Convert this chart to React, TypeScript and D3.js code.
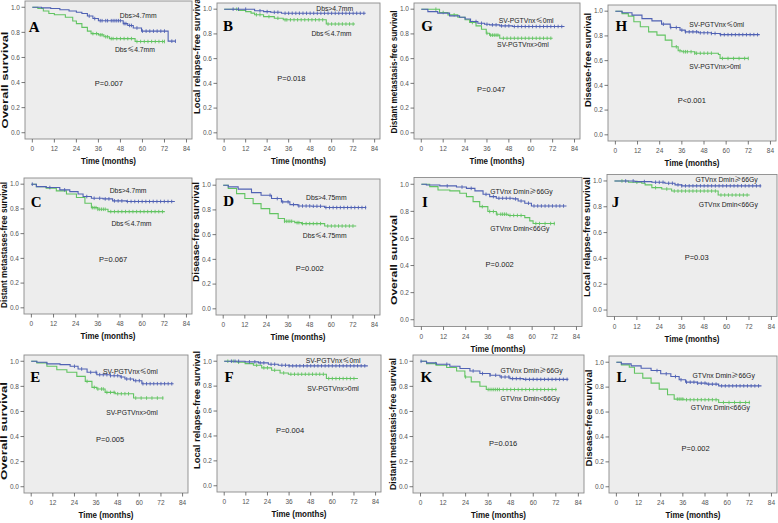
import React from "react";
import * as d3 from "d3";

type Pt = [number, number];

// ---------- DATA ----------
const panelLetters = ["A", "B", "G", "H", "C", "D", "I", "J", "E", "F", "K", "L"];
const yTitles = [
  "Overall survival",
  "Local relapse-free survival",
  "Distant metastasis-free survival",
  "Disease-free survival",
  "Distant metastases-free survival",
  "Disease-free survival",
  "Overall survival",
  "Local relapse-free survival",
  "Overall survival",
  "Local relapse-free survival",
  "Distant metastasis-free survival",
  "Disease-free survival",
];
const pTexts = ["P=0.007", "P=0.018", "P=0.047", "P<0.001", "P=0.067", "P=0.002", "P=0.002", "P=0.03", "P=0.005", "P=0.004", "P=0.016", "P=0.002"];
const upperLabels = ["Dbs>4.7mm", "Dbs>4.7mm", "SV-PGTVnx≤0ml", "SV-PGTVnx≤0ml", "Dbs>4.7mm", "Dbs>4.75mm", "GTVnx Dmin≥66Gy", "GTVnx Dmin≥66Gy", "SV-PGTVnx≤0ml", "SV-PGTVnx≤0ml", "GTVnx Dmin≥66Gy", "GTVnx Dmin≥66Gy"];
const lowerLabels = ["Dbs≤4.7mm", "Dbs≤4.7mm", "SV-PGTVnx>0ml", "SV-PGTVnx>0ml", "Dbs≤4.7mm", "Dbs≤4.75mm", "GTVnx Dmin<66Gy", "GTVnx Dmin<66Gy", "SV-PGTVnx>0ml", "SV-PGTVnx>0ml", "GTVnx Dmin<66Gy", "GTVnx Dmin<66Gy"];
const xTicks = [0, 12, 24, 36, 48, 60, 72, 84];
const yTicks = [0, 0.2, 0.4, 0.6, 0.8, 1.0];
const xTitle = "Time (months)";

// Kaplan-Meier steps [time, survival] – blue (upper group)
const blueSteps: Pt[][] = [
  [[0, 1], [5, 0.995], [10, 0.99], [15, 0.98], [20, 0.97], [24, 0.96], [27, 0.95], [30, 0.93], [33, 0.91], [36, 0.893], [49.5, 0.87], [52, 0.855], [55, 0.835], [59.5, 0.81], [74, 0.73], [78, 0.73]],
  [[0, 1], [17, 0.987], [22, 0.98], [26, 0.975], [32, 0.967], [79, 0.967]],
  [[0, 1], [3.6, 0.98], [9, 0.968], [15.5, 0.946], [21, 0.935], [24, 0.92], [27, 0.9], [31, 0.886], [34.7, 0.878], [37.4, 0.873], [43, 0.865], [50, 0.86], [78.5, 0.86]],
  [[0, 1], [3.6, 0.987], [9, 0.968], [14.4, 0.94], [19.8, 0.922], [25, 0.895], [29.7, 0.868], [35, 0.847], [37.8, 0.833], [45, 0.825], [52, 0.82], [56.7, 0.81], [78.2, 0.81]],
  [[0, 1], [2.7, 0.98], [8, 0.973], [15.4, 0.954], [20.8, 0.94], [25.3, 0.92], [28, 0.9], [32.5, 0.886], [38.8, 0.881], [44, 0.865], [51.5, 0.86], [77.7, 0.86]],
  [[0, 1], [2.8, 0.986], [8.3, 0.968], [15.7, 0.94], [21, 0.919], [26.8, 0.892], [32.3, 0.865], [37, 0.843], [41.5, 0.832], [49, 0.83], [56.3, 0.819], [79.4, 0.819]],
  [[0, 1], [2.7, 0.995], [10, 0.988], [19, 0.98], [24.4, 0.97], [29, 0.951], [33.4, 0.926], [37, 0.909], [40.6, 0.897], [49.7, 0.892], [52.4, 0.877], [56, 0.86], [59.6, 0.84], [78.6, 0.84]],
  [[0, 1], [11, 0.995], [20, 0.99], [27, 0.982], [32.4, 0.97], [36, 0.962], [78.6, 0.962]],
  [[0, 1], [3.1, 0.992], [8.7, 0.979], [16, 0.973], [21.6, 0.96], [26, 0.939], [31, 0.912], [36.4, 0.893], [43.8, 0.885], [49.4, 0.875], [52, 0.859], [56.8, 0.845], [61.4, 0.821], [79, 0.821]],
  [[0, 1], [11.6, 0.995], [19, 0.987], [24.5, 0.976], [30, 0.968], [36, 0.963], [79.7, 0.963]],
  [[0, 1], [3.2, 0.987], [8.5, 0.976], [15.6, 0.96], [21, 0.942], [26.3, 0.923], [31.6, 0.902], [37, 0.889], [42.3, 0.875], [47.6, 0.862], [54.7, 0.856], [78.7, 0.856]],
  [[0, 1], [2.7, 0.987], [8, 0.971], [13.4, 0.952], [18.8, 0.933], [24, 0.907], [29.5, 0.885], [34, 0.859], [37.5, 0.84], [43.8, 0.832], [49, 0.824], [55.4, 0.81], [78.6, 0.81]],
];

// Kaplan-Meier steps – green (lower group)
const greenSteps: Pt[][] = [
  [[0, 1], [3, 0.99], [6, 0.97], [9, 0.95], [12, 0.94], [18, 0.92], [22, 0.89], [24, 0.87], [27, 0.84], [30, 0.81], [32, 0.79], [36, 0.78], [39, 0.765], [42, 0.75], [56, 0.727], [72, 0.727]],
  [[0, 1], [8, 0.99], [12, 0.98], [15, 0.968], [17, 0.955], [22, 0.94], [28, 0.927], [33, 0.914], [57, 0.88], [73, 0.88]],
  [[0, 1], [10, 0.973], [14.6, 0.954], [20, 0.935], [24, 0.914], [26.5, 0.892], [30, 0.865], [33, 0.838], [35.6, 0.805], [37.4, 0.79], [43, 0.765], [72, 0.765]],
  [[0, 1], [3.6, 0.98], [7, 0.96], [10, 0.914], [13.5, 0.874], [18, 0.833], [22.5, 0.806], [27, 0.766], [30.6, 0.712], [34, 0.68], [36, 0.672], [43, 0.66], [55.8, 0.65], [56.7, 0.618], [72, 0.618]],
  [[0, 1], [2.7, 0.98], [8, 0.968], [13.5, 0.946], [19, 0.92], [24.4, 0.892], [29, 0.846], [32.5, 0.81], [36, 0.797], [41.5, 0.778], [72.3, 0.778]],
  [[0, 1], [2.8, 0.973], [7.4, 0.932], [12, 0.892], [16.6, 0.851], [21, 0.81], [25.8, 0.77], [30.5, 0.73], [34, 0.708], [39.7, 0.697], [43.4, 0.689], [56.3, 0.67], [73.8, 0.67]],
  [[0, 1], [4.5, 0.983], [9, 0.958], [15.4, 0.951], [20.8, 0.934], [24.4, 0.909], [28, 0.872], [31.6, 0.835], [36, 0.799], [40.6, 0.779], [47, 0.77], [56, 0.754], [58.7, 0.73], [60.5, 0.71], [72.3, 0.71]],
  [[0, 1], [7.5, 0.99], [14.6, 0.982], [16.4, 0.97], [20, 0.948], [25.3, 0.938], [30.6, 0.922], [55.5, 0.891], [72.4, 0.891]],
  [[0, 1], [3.1, 0.987], [8.7, 0.96], [14.2, 0.933], [19.8, 0.912], [25.3, 0.88], [30, 0.84], [33.7, 0.792], [36.4, 0.779], [41, 0.752], [46.6, 0.741], [56.8, 0.707], [73.4, 0.707]],
  [[0, 1], [7, 0.992], [11.6, 0.981], [16.2, 0.968], [20.8, 0.947], [26.3, 0.928], [31, 0.906], [35.6, 0.896], [56.7, 0.861], [74.2, 0.861]],
  [[0, 1], [3.2, 0.981], [8.5, 0.968], [13.9, 0.95], [19.2, 0.923], [23.6, 0.875], [27, 0.836], [31.6, 0.801], [35, 0.775], [72.5, 0.775]],
  [[0, 1], [2.7, 0.979], [7, 0.96], [9.8, 0.912], [14.3, 0.872], [18.8, 0.832], [23.2, 0.784], [27.7, 0.739], [31.3, 0.704], [36.6, 0.699], [55.4, 0.677], [72.4, 0.677]],
];

// censoring times
const blueCensor: number[][] = [
  [31, 34, 37, 38, 40, 41, 43, 44, 45, 46, 47, 48, 50, 51, 53, 54, 57, 60, 62, 64, 66, 68, 70, 72, 76, 78],
  [5, 8, 12, 20, 24, 28, 30, 34, 36, 38, 40, 42, 44, 46, 48, 50, 52, 54, 56, 58, 60, 62, 64, 66, 68, 70, 72, 74, 76, 78],
  [30, 33, 36, 39, 41, 44, 46, 48, 51, 53, 55, 57, 59, 61, 63, 65, 67, 69, 71, 73, 75, 77],
  [26, 30, 33, 36, 38, 40, 42, 44, 46, 48, 50, 52, 54, 57, 59, 61, 63, 65, 67, 69, 71, 73, 75, 77],
  [0.5, 10, 18, 30, 34, 37, 40, 42, 45, 47, 49, 52, 54, 56, 58, 60, 62, 64, 66, 68, 70, 72, 74, 76],
  [26, 30, 33, 36, 39, 42, 44, 46, 48, 50, 52, 54, 57, 59, 61, 63, 65, 67, 69, 71, 73, 75, 77, 79],
  [14, 22, 27, 35, 39, 42, 44, 46, 48, 51, 54, 58, 61, 63, 65, 67, 69, 71, 73, 75, 77],
  [6, 10, 16, 22, 24, 26, 29, 31, 34, 36, 38, 40, 42, 44, 46, 48, 50, 52, 54, 56, 58, 60, 62, 64, 66, 68, 70, 72, 74, 76, 78],
  [24, 28, 33, 36, 38, 40, 42, 44, 46, 48, 50, 53, 55, 58, 60, 62, 64, 66, 68, 70, 72, 74, 76, 78],
  [4, 6, 8, 14, 17, 20, 22, 26, 28, 32, 34, 36, 38, 40, 42, 44, 46, 48, 50, 52, 54, 56, 58, 60, 62, 64, 66, 68, 70, 72, 74, 76, 78],
  [0.3, 14, 28, 33, 37, 40, 43, 45, 47, 49, 51, 53, 56, 58, 60, 62, 64, 66, 68, 70, 72, 74, 76, 78],
  [22, 27, 32, 35, 38, 40, 42, 44, 46, 48, 50, 52, 54, 57, 59, 61, 63, 65, 67, 69, 71, 73, 75, 77],
];
const greenCensor: number[][] = [
  [33, 35, 37, 38, 40, 41, 43, 44, 46, 48, 50, 52, 54, 57, 59, 61, 63, 65, 67, 69, 71, 72],
  [7, 18, 20, 25, 30, 34, 35, 37, 39, 41, 43, 45, 47, 49, 51, 53, 55, 58, 60, 62, 64, 66, 68, 70, 72],
  [8, 12, 18, 28, 36, 38, 39, 40, 41, 42, 45, 47, 49, 51, 53, 55, 57, 59, 61, 63, 65, 67, 69, 71],
  [33, 35, 37, 38, 39, 41, 43, 44, 46, 48, 50, 52, 58, 61, 64, 67, 70, 72],
  [33, 34, 35, 36, 37, 38, 39, 40, 43, 45, 47, 49, 51, 53, 55, 57, 59, 61, 63, 65, 67, 69, 71],
  [34, 35, 36, 37, 38, 41, 42, 44, 46, 48, 50, 52, 54, 58, 60, 62, 64, 66, 68, 70, 72],
  [33, 37, 39, 41, 43, 44, 45, 46, 48, 50, 52, 54, 62, 64, 67, 70, 72],
  [4, 12, 22, 28, 32, 34, 36, 38, 40, 42, 44, 46, 48, 50, 52, 54, 57, 59, 61, 63, 65, 67, 69, 71],
  [31, 35, 37, 39, 40, 42, 44, 46, 48, 50, 52, 54, 58, 61, 64, 67, 70, 73],
  [2, 5, 8, 18, 22, 24, 28, 33, 37, 39, 41, 43, 45, 47, 49, 51, 53, 55, 58, 60, 62, 64, 66, 68, 70, 72],
  [8, 24, 36, 37, 38, 39, 40, 41, 42, 44, 46, 48, 50, 52, 54, 56, 58, 60, 62, 64, 66, 68, 70, 72],
  [33, 34, 35, 36, 38, 40, 42, 44, 46, 48, 50, 52, 54, 58, 61, 64, 67, 70, 72],
];

// ---------- LAYOUT ----------
type Layout = {
  frame: [number, number, number, number]; // left, top, width, height (px)
  upper: Pt; lower: Pt; p: Pt; letter: Pt; // data coords
  yTitle: [number, number]; // center y (px), length (px)
};
const layouts: Layout[] = [
  { frame: [25, 1, 167, 138], upper: [57.7, 0.931], lower: [55.9, 0.66], p: [41.7, 0.39], letter: [-2, 0.806], yTitle: [80, 97] },
  { frame: [217, 3, 163, 136], upper: [61.7, 1.008], lower: [59.9, 0.805], p: [37.5, 0.44], letter: [-0.6, 0.827], yTitle: [55, 118] },
  { frame: [414, 3, 166, 136], upper: [57.5, 0.908], lower: [55.7, 0.71], p: [38.3, 0.35], letter: [0, 0.827], yTitle: [72, 123] },
  { frame: [608, 5, 168, 136], upper: [54.9, 0.895], lower: [54, 0.551], p: [41.4, 0.282], letter: [0, 0.839], yTitle: [60, 94] },
  { frame: [24, 178, 168, 136], upper: [52.4, 0.946], lower: [54.2, 0.684], p: [44.3, 0.395], letter: [-0.4, 0.819], yTitle: [245, 126] },
  { frame: [216, 179, 164, 136], upper: [57.2, 0.897], lower: [56.3, 0.589], p: [48, 0.33], letter: [0, 0.832], yTitle: [232, 100] },
  { frame: [414, 177.5, 168, 149], upper: [54.2, 0.946], lower: [53.3, 0.676], p: [42.4, 0.405], letter: [0.4, 0.835], yTitle: [260, 90] },
  { frame: [607, 174.5, 170, 142], upper: [60, 1.008], lower: [60.9, 0.814], p: [44, 0.406], letter: [-1.4, 0.801], yTitle: [237, 120] },
  { frame: [24, 355, 164, 138], upper: [55, 0.92], lower: [55.9, 0.587], p: [43.8, 0.379], letter: [-0.5, 0.832], yTitle: [431, 98] },
  { frame: [217, 355, 164, 137], upper: [60.4, 1.008], lower: [60.4, 0.781], p: [36.5, 0.447], letter: [0.2, 0.834], yTitle: [410, 118] },
  { frame: [413, 355, 171, 138], upper: [59.1, 0.923], lower: [58.3, 0.703], p: [44, 0.345], letter: [0, 0.836], yTitle: [424, 132] },
  { frame: [609, 356, 168, 137], upper: [58.1, 0.891], lower: [56.3, 0.632], p: [42.9, 0.312], letter: [0, 0.845], yTitle: [418, 97] },
];

const BLUE = "#5062b4";
const GREEN = "#62c462";
const SANS = "'Liberation Sans', Arial, sans-serif";
const SERIF = "'Liberation Serif', 'Times New Roman', serif";
const SYM = "'Noto Sans CJK SC', 'DejaVu Sans', sans-serif";

function survAt(steps: Pt[], t: number): number {
  let s = steps[0][1];
  for (const p of steps) if (p[0] <= t) s = p[1];
  return s;
}

// render label text, routing the ≤/≥ glyphs through a font that draws them clearly
function labelParts(s: string) {
  const parts = s.split(/([≤≥])/);
  return parts.map((p, k) =>
    p === "≤" || p === "≥" ? (
      <tspan key={k} fontFamily={SYM} fontSize={7.2}>
        {p}
      </tspan>
    ) : (
      <tspan key={k}>{p}</tspan>
    )
  );
}

function Panel({ i }: { i: number }) {
  const L = layouts[i];
  const [fl, ft, fw, fh] = L.frame;
  const x = d3.scaleLinear().domain([-4, 87]).range([fl, fl + fw]);
  const y = d3.scaleLinear().domain([-0.05, 1.05]).range([ft + fh, ft]);
  const line = d3
    .line<Pt>()
    .x((d) => x(d[0]))
    .y((d) => y(d[1]))
    .curve(d3.curveStepAfter);
  const fmt = d3.format(".1f");
  const curves = [
    { steps: greenSteps[i], cens: greenCensor[i], color: GREEN },
    { steps: blueSteps[i], cens: blueCensor[i], color: BLUE },
  ];
  return (
    <g>
      <rect x={fl} y={ft} width={fw} height={fh} fill="#ededed" stroke="#8a8a8a" strokeWidth={0.9} />
      {yTicks.map((v) => (
        <g key={"y" + v}>
          <line x1={fl - 3.5} x2={fl} y1={y(v)} y2={y(v)} stroke="#555" strokeWidth={0.8} />
          <text x={fl - 5} y={y(v)} dy="0.35em" textAnchor="end" fontSize={6.5} fill="#555" fontFamily={SANS}>
            {fmt(v)}
          </text>
        </g>
      ))}
      {xTicks.map((v) => (
        <g key={"x" + v}>
          <line x1={x(v)} x2={x(v)} y1={ft + fh} y2={ft + fh + 3.5} stroke="#555" strokeWidth={0.8} />
          <text x={x(v)} y={ft + fh + 12} textAnchor="middle" fontSize={6.5} fill="#555" fontFamily={SANS}>
            {v}
          </text>
        </g>
      ))}
      <text x={fl + fw / 2} y={ft + fh + 25} textAnchor="middle" fontSize={9} fontWeight="bold" fontFamily={SANS} textLength={55} lengthAdjust="spacingAndGlyphs" fill="#111">
        {xTitle}
      </text>
      <text
        transform={`translate(${fl - 20},${L.yTitle[0]}) rotate(-90)`}
        textAnchor="middle"
        dy="0.35em"
        fontSize={8.5}
        fontWeight="bold"
        fontFamily={SANS}
        textLength={L.yTitle[1]}
        lengthAdjust="spacingAndGlyphs"
        fill="#111"
      >
        {yTitles[i]}
      </text>
      {curves.map((c, k) => (
        <g key={k}>
          <path d={line(c.steps) || ""} fill="none" stroke={c.color} strokeWidth={1.1} />
          {c.cens.map((t, j) => {
            const cy = y(survAt(c.steps, t));
            return <line key={j} x1={x(t)} x2={x(t)} y1={cy - 1.8} y2={cy + 1.8} stroke={c.color} strokeWidth={0.9} />;
          })}
        </g>
      ))}
      <text x={x(L.letter[0])} y={y(L.letter[1])} fontSize={15} fontWeight="bold" fontFamily={SERIF} fill="#000">
        {panelLetters[i]}
      </text>
      <text x={x(L.upper[0])} y={y(L.upper[1])} dy="0.35em" textAnchor="middle" fontSize={6.8} fontFamily={SANS} fill="#222">
        {labelParts(upperLabels[i])}
      </text>
      <text x={x(L.lower[0])} y={y(L.lower[1])} dy="0.35em" textAnchor="middle" fontSize={6.8} fontFamily={SANS} fill="#222">
        {labelParts(lowerLabels[i])}
      </text>
      <text x={x(L.p[0])} y={y(L.p[1])} dy="0.35em" textAnchor="middle" fontSize={7.5} fontFamily={SANS} fill="#222">
        {pTexts[i]}
      </text>
    </g>
  );
}

export default function App() {
  return (
    <svg width={778} height={523} style={{ position: "absolute", left: 0, top: 0, background: "#fff" }}>
      <rect x={0} y={0} width={778} height={523} fill="#fff" />
      {panelLetters.map((_, i) => (
        <Panel key={i} i={i} />
      ))}
    </svg>
  );
}
